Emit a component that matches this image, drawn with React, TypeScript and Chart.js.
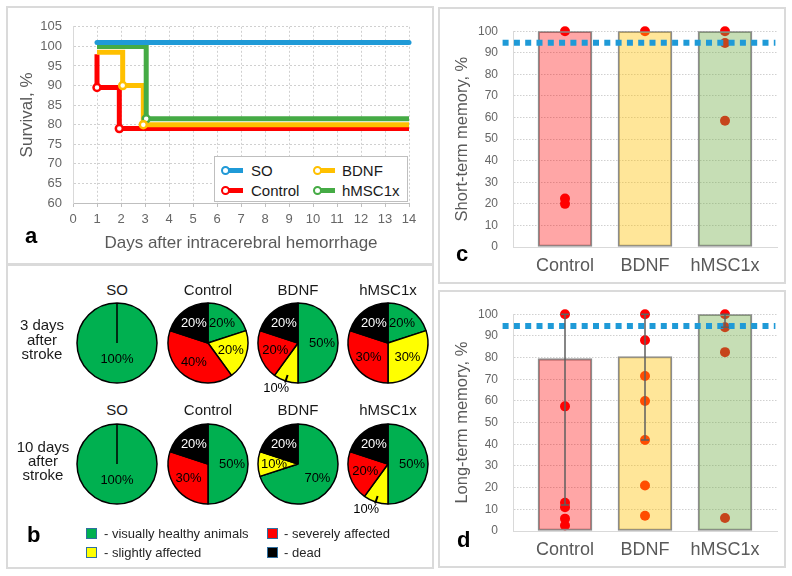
import React, { useEffect, useRef } from 'react';
import { Chart, registerables } from 'chart.js';

Chart.register(...registerables);

const FONT = "'Liberation Sans', Arial, Helvetica, sans-serif";
Chart.defaults.font.family = FONT;

// ---------- Panel a: survival ----------
const survivalSeries = ['SO', 'Control', 'BDNF', 'hMSC1x'];
const soDays = [1, 14];
const soSurvival = [101, 101];
const controlDays = [1, 1, 1.93, 1.93, 14];
const controlSurvival = [98, 89.5, 89.5, 79, 79];
const bdnfDays = [1, 2.07, 2.07, 2.93, 2.93, 14];
const bdnfSurvival = [98.5, 98.5, 90, 90, 80, 80];
const hmscDays = [1, 3.05, 3.05, 14];
const hmscSurvival = [100, 100, 81.5, 81.5];
const controlMarkers = [1, 3];
const bdnfMarkers = [2, 4];
const hmscMarkers = [2];
const dayMin = 0;
const dayMax = 14;
const survivalMin = 60;
const survivalMax = 105;

// ---------- Panel b: condition pies ----------
const pieGroups = ['SO', 'Control', 'BDNF', 'hMSC1x'];
const pieStates = ['visually healthy animals', 'slightly affected', 'severely affected', 'dead'];
const day3Healthy = [100, 20, 50, 20];
const day3Slight = [0, 20, 10, 30];
const day3Severe = [0, 40, 20, 30];
const day3Dead = [0, 20, 20, 20];
const day10Healthy = [100, 50, 70, 50];
const day10Slight = [0, 0, 10, 10];
const day10Severe = [0, 30, 0, 20];
const day10Dead = [0, 20, 20, 20];
const day3OutsideLabel = [-1, -1, 1, -1];
const day10OutsideLabel = [-1, -1, -1, 1];

// ---------- Panels c, d: memory ----------
const memoryGroups = ['Control', 'BDNF', 'hMSC1x'];
const shortTermMean = [100, 100, 100];
const shortTermControl = [100, 22.5, 20];
const shortTermBdnf = [100];
const shortTermHmsc = [100, 94.5, 58.5];
const shortTermSham = 94.7;
const longTermMean = [79.5, 80.5, 100];
const longTermLow = [12, 42, 94];
const longTermHigh = [100, 100, 100];
const longTermControl = [100, 57.5, 13, 11, 5.7, 2.5];
const longTermBdnf = [100, 88, 71.5, 60, 42, 21, 7];
const longTermHmsc = [100, 94, 82.5, 6];
const longTermSham = 94.5;
const shamLineDays = [0.22, 3.63];

// ---------- styles ----------
const BLUE = '#1f9ad7';
const RED = '#ff0000';
const YELLOW = '#ffc000';
const GREEN = '#45ab45';
const PIE_COLORS = ['#00b050', '#ffff00', '#ff0000', '#000000'];
const PIE_TEXT = ['#000', '#000', '#000', '#fff'];
const BAR_FILLS = ['rgba(255,0,0,0.35)', 'rgba(255,192,0,0.4)', 'rgba(112,173,71,0.4)'];
const TICK = '#666666';
const TITLE = '#595959';
const GRID = '#d0d0d0';

function survivalConfig(): any {
  const colors = [BLUE, RED, YELLOW, GREEN];
  const xs = [soDays, controlDays, bdnfDays, hmscDays];
  const ys = [soSurvival, controlSurvival, bdnfSurvival, hmscSurvival];
  const marks = [[] as number[], controlMarkers, bdnfMarkers, hmscMarkers];
  const lineOrder = [1, 4, 3, 2];
  const lines = survivalSeries.map((name, s) => ({
    type: 'line',
    label: name,
    data: xs[s].map((x, i) => ({ x, y: ys[s][i] })),
    borderColor: colors[s],
    backgroundColor: colors[s],
    borderWidth: 5,
    borderJoinStyle: 'miter',
    borderCapStyle: s === 0 ? 'round' : 'butt',
    pointRadius: 0,
    tension: 0,
    fill: false,
    clip: false,
    order: lineOrder[s],
  }));
  const markers = survivalSeries.map((name, s) => ({
    type: 'scatter',
    label: name + ' events',
    data: marks[s].map((i) => ({ x: xs[s][i], y: ys[s][i] })),
    pointRadius: 3.5,
    pointBackgroundColor: '#fff',
    pointBorderColor: colors[s],
    pointBorderWidth: 2.5,
    clip: false,
    order: 0,
  }));
  return {
    type: 'line',
    data: { datasets: [...markers, ...lines] },
    options: {
      responsive: false,
      animation: false,
      layout: { padding: { left: 8, right: 23, top: 13, bottom: 5 } },
      plugins: { legend: { display: false }, tooltip: { enabled: false } },
      scales: {
        x: {
          type: 'linear',
          min: dayMin,
          max: dayMax,
          ticks: { stepSize: 1, color: TICK, font: { size: 13 }, padding: 5 },
          grid: { color: GRID, drawTicks: true, tickLength: 4, tickColor: '#bfbfbf', tickBorderDash: [] },
          border: { display: true, color: '#bfbfbf', width: 1, dash: [2, 2] },
          title: { display: true, text: 'Days after intracerebral hemorrhage', color: TITLE, font: { size: 17 }, padding: { top: 0, bottom: 3 } },
          afterFit: (s: any) => { s.height = 54; },
        },
        y: {
          min: survivalMin,
          max: survivalMax,
          ticks: { stepSize: 5, color: TICK, font: { size: 13 }, padding: 11 },
          grid: { color: GRID, drawTicks: false, tickLength: 0 },
          border: { display: true, color: '#d9d9d9', width: 1, dash: [2, 2] },
          title: { display: true, text: 'Survival, %', color: TITLE, font: { size: 17 }, padding: { top: 1, bottom: 0 } },
          afterFit: (s: any) => { s.width = 57; },
        },
      },
    },
  };
}

const pieLabelPlugin = {
  id: 'pieLabels',
  afterDatasetsDraw(chart: any, _args: any, opts: any) {
    const ctx = chart.ctx;
    const meta = chart.getDatasetMeta(0);
    const values = chart.data.datasets[0].data;
    meta.data.forEach((arc: any, i: number) => {
      const v = values[i];
      if (!v) return;
      const p = arc.getProps(['x', 'y', 'startAngle', 'endAngle', 'outerRadius'], true);
      const mid = (p.startAngle + p.endAngle) / 2;
      const dx = Math.cos(mid);
      const dy = Math.sin(mid);
      const r = p.outerRadius;
      ctx.save();
      ctx.font = `13px ${FONT}`;
      ctx.textAlign = 'center';
      ctx.textBaseline = 'middle';
      if (opts.outside === i) {
        ctx.strokeStyle = '#000';
        ctx.lineWidth = 2;
        ctx.beginPath();
        ctx.moveTo(p.x + dx * r * 0.84, p.y + dy * r * 0.84);
        ctx.lineTo(p.x + dx * r * 1.04, p.y + dy * r * 1.04);
        ctx.stroke();
        ctx.fillStyle = '#000';
        ctx.fillText(`${v}%`, p.x + dx * r * 1.2 - 7, p.y + dy * r * 1.2);
      } else {
        const f = v >= 100 ? 0.42 : 0.6;
        ctx.fillStyle = PIE_TEXT[i];
        ctx.fillText(`${v}%`, p.x + dx * r * f, p.y + dy * r * f);
      }
      ctx.restore();
    });
  },
};

function pieConfig(values: number[], outside: number): any {
  return {
    type: 'pie',
    data: {
      labels: pieStates,
      datasets: [{ data: values, backgroundColor: PIE_COLORS, borderColor: '#000', borderWidth: 1.5 }],
    },
    options: {
      responsive: false,
      animation: false,
      radius: 40,
      layout: { padding: 0 },
      plugins: { legend: { display: false }, tooltip: { enabled: false }, pieLabels: { outside } },
    },
    plugins: [pieLabelPlugin],
  };
}

const errorBarPlugin = {
  id: 'errorBars',
  afterDatasetsDraw(chart: any, _args: any, opts: any) {
    if (!opts || !opts.low) return;
    const { ctx } = chart;
    const x = chart.scales.x;
    const y = chart.scales.y;
    ctx.save();
    ctx.strokeStyle = '#5f5f5f';
    ctx.lineWidth = 1.5;
    opts.low.forEach((lo: number, i: number) => {
      const px = x.getPixelForValue(i + 1);
      const y1 = y.getPixelForValue(lo);
      const y2 = y.getPixelForValue(opts.high[i]);
      ctx.beginPath();
      ctx.moveTo(px, y1);
      ctx.lineTo(px, y2);
      ctx.moveTo(px - 4, y1);
      ctx.lineTo(px + 4, y1);
      ctx.moveTo(px - 4, y2);
      ctx.lineTo(px + 4, y2);
      ctx.stroke();
    });
    ctx.restore();
  },
};

function memoryConfig(title: string, means: number[], dots: number[][], sham: number, low?: number[], high?: number[]): any {
  return {
    type: 'bar',
    data: {
      datasets: [
        {
          type: 'line',
          label: 'SO',
          data: shamLineDays.map((x) => ({ x, y: sham })),
          borderColor: BLUE,
          borderWidth: 6,
          borderDash: [6, 5.3],
          borderCapStyle: 'butt',
          pointRadius: 0,
          fill: false,
          clip: false,
          order: 0,
        },
        {
          type: 'bar',
          label: 'mean',
          data: means.map((m, i) => ({ x: i + 1, y: m })),
          backgroundColor: BAR_FILLS,
          borderColor: '#8c8c8c',
          borderWidth: 1.5,
          borderSkipped: false,
          barThickness: 54,
          order: 1,
        },
        {
          type: 'scatter',
          label: 'animals',
          data: dots.flatMap((vals, i) => vals.map((v) => ({ x: i + 1, y: v }))),
          backgroundColor: RED,
          borderWidth: 0,
          pointRadius: 5,
          clip: false,
          order: 2,
        },
      ],
    },
    options: {
      responsive: false,
      animation: false,
      layout: { padding: { left: 6, right: 7, top: 15, bottom: 2 } },
      plugins: {
        legend: { display: false },
        tooltip: { enabled: false },
        errorBars: low ? { low, high } : {},
      },
      scales: {
        x: {
          type: 'linear',
          min: 0.35,
          max: 3.65,
          offset: false,
          afterBuildTicks: (s: any) => { s.ticks = memoryGroups.map((_, i) => ({ value: i + 1 })); },
          ticks: { callback: (v: any) => memoryGroups[Math.round(v) - 1] ?? '', color: TITLE, font: { size: 18 }, padding: 8, autoSkip: false, maxRotation: 0 },
          grid: { display: false, drawTicks: false, tickLength: 0 },
          border: { display: true, color: '#d9d9d9', width: 1 },
          afterFit: (s: any) => { s.height = 33; },
        },
        y: {
          min: 0,
          max: 100,
          ticks: { stepSize: 10, color: TICK, font: { size: 12 }, padding: 15 },
          grid: { color: GRID, drawTicks: false, tickLength: 0 },
          border: { display: true, color: '#d9d9d9', width: 1, dash: [1.5, 1.5] },
          title: { display: true, text: title, color: TITLE, font: { size: 16.5 }, padding: { top: 7, bottom: 0 } },
          afterFit: (s: any) => { s.width = 67; },
        },
      },
    },
    plugins: [errorBarPlugin],
  };
}

function ChartBox({ left, top, width, height, make }: any) {
  const ref = useRef<HTMLCanvasElement>(null);
  useEffect(() => {
    const chart = new Chart(ref.current as HTMLCanvasElement, make());
    return () => chart.destroy();
  }, []);
  return (
    <canvas
      ref={ref}
      width={width}
      height={height}
      style={{ position: 'absolute', left, top, width, height }}
    />
  );
}

function Frame({ left, top, width, height }: any) {
  return (
    <div
      style={{
        position: 'absolute', left, top, width, height, boxSizing: 'border-box',
        border: '2px solid #dadada',
      }}
    />
  );
}

function Txt({ x, y, children, size = 15, color = '#1a1a1a', align = 'center', weight = 400 }: any) {
  const style: any = {
    position: 'absolute',
    top: y - size / 2,
    fontSize: size,
    lineHeight: `${size}px`,
    color,
    fontWeight: weight,
    whiteSpace: 'nowrap',
  };
  if (align === 'center') {
    style.left = x - 100;
    style.width = 200;
    style.textAlign = 'center';
  } else {
    style.left = x;
  }
  return <div style={style}>{children}</div>;
}

function LegendIcon({ cx, cy, color }: any) {
  return (
    <>
      <div style={{ position: 'absolute', left: cx, top: cy - 2.5, width: 18, height: 5, background: color }} />
      <div
        style={{
          position: 'absolute', left: cx - 4.5, top: cy - 4.5, width: 9, height: 9, boxSizing: 'border-box',
          borderRadius: '50%', border: `2.5px solid ${color}`, background: '#fff',
        }}
      />
    </>
  );
}

function Swatch({ x, y, color }: any) {
  return (
    <div
      style={{
        position: 'absolute', left: x - 5.5, top: y - 5.5, width: 11, height: 11, boxSizing: 'border-box',
        background: color, border: '1.5px solid #2f6f9f',
      }}
    />
  );
}

const PIE_X = [117, 208, 298, 388];
const PIE_Y = [343, 464];

export default function App() {
  const day3 = pieGroups.map((_, g) => [day3Healthy[g], day3Slight[g], day3Severe[g], day3Dead[g]]);
  const day10 = pieGroups.map((_, g) => [day10Healthy[g], day10Slight[g], day10Severe[g], day10Dead[g]]);
  const legendColors = [BLUE, YELLOW, RED, GREEN];
  const legendNames = [survivalSeries[0], survivalSeries[2], survivalSeries[1], survivalSeries[3]];
  return (
    <div
      style={{
        position: 'fixed', left: 0, top: 0, width: 792, height: 576, background: '#fff',
        overflow: 'hidden', fontFamily: FONT,
      }}
    >
      <Frame left={6} top={6} width={428} height={259} />
      <Frame left={6} top={264} width={428} height={305} />
      <Frame left={438} top={7} width={348} height={277} />
      <Frame left={438} top={290} width={348} height={278} />

      {/* Panel a */}
      <ChartBox left={8} top={8} width={424} height={254} make={survivalConfig} />
      <div
        style={{
          position: 'absolute', left: 214, top: 156, width: 194, height: 46, boxSizing: 'border-box',
          border: '1px solid #bfbfbf', background: '#fff',
        }}
      />
      {legendNames.map((name, i) => {
        const cx = i % 2 === 0 ? 225 : 317;
        const cy = i < 2 ? 170 : 190;
        return (
          <React.Fragment key={name}>
            <LegendIcon cx={cx} cy={cy} color={legendColors[i]} />
            <Txt x={cx + (i % 2 === 0 ? 26 : 25)} y={cy} align="left" size={15}>{name}</Txt>
          </React.Fragment>
        );
      })}
      <Txt x={25} y={236} align="left" size={22} weight={700} color="#000">a</Txt>

      {/* Panel b */}
      {pieGroups.map((g, i) => (
        <React.Fragment key={g}>
          <Txt x={PIE_X[i]} y={289} size={15}>{g}</Txt>
          <Txt x={PIE_X[i]} y={409} size={15}>{g}</Txt>
          <ChartBox left={PIE_X[i] - 65} top={PIE_Y[0] - 65} width={130} height={130} make={() => pieConfig(day3[i], day3OutsideLabel[i])} />
          <ChartBox left={PIE_X[i] - 65} top={PIE_Y[1] - 65} width={130} height={130} make={() => pieConfig(day10[i], day10OutsideLabel[i])} />
        </React.Fragment>
      ))}
      <Txt x={42} y={324} size={15}>3 days</Txt>
      <Txt x={42} y={339} size={15}>after</Txt>
      <Txt x={42} y={353} size={15}>stroke</Txt>
      <Txt x={43} y={446} size={15}>10 days</Txt>
      <Txt x={43} y={460} size={15}>after</Txt>
      <Txt x={43} y={474} size={15}>stroke</Txt>
      <Swatch x={91} y={533} color={PIE_COLORS[0]} />
      <Txt x={104} y={533} align="left" size={13} color="#262626">- {pieStates[0]}</Txt>
      <Swatch x={91} y={552} color={PIE_COLORS[1]} />
      <Txt x={104} y={552} align="left" size={13} color="#262626">- {pieStates[1]}</Txt>
      <Swatch x={272} y={533} color={PIE_COLORS[2]} />
      <Txt x={284} y={533} align="left" size={13} color="#262626">- {pieStates[2]}</Txt>
      <Swatch x={272} y={552} color={PIE_COLORS[3]} />
      <Txt x={284} y={552} align="left" size={13} color="#262626">- {pieStates[3]}</Txt>
      <Txt x={27} y={535} align="left" size={22} weight={700} color="#000">b</Txt>

      {/* Panel c */}
      <ChartBox
        left={440} top={9} width={344} height={273}
        make={() => memoryConfig('Short-term memory, %', shortTermMean, [shortTermControl, shortTermBdnf, shortTermHmsc], shortTermSham)}
      />
      <Txt x={456} y={254} align="left" size={22} weight={700} color="#000">c</Txt>

      {/* Panel d */}
      <ChartBox
        left={440} top={292} width={344} height={274}
        make={() => memoryConfig('Long-term memory, %', longTermMean, [longTermControl, longTermBdnf, longTermHmsc], longTermSham, longTermLow, longTermHigh)}
      />
      <Txt x={457} y={540} align="left" size={22} weight={700} color="#000">d</Txt>
    </div>
  );
}
